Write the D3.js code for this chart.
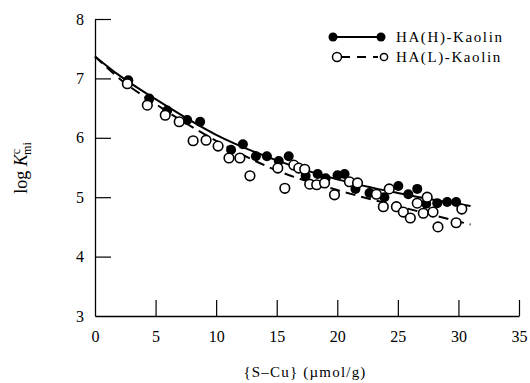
<!DOCTYPE html>
<html><head><meta charset="utf-8">
<script src="https://cdn.jsdelivr.net/npm/d3@7"></script>
<style>body{margin:0;background:#fff}svg{display:block}text{font-family:"Liberation Serif","Times New Roman",serif;fill:#000}</style>
</head><body><svg id="c" width="530" height="383"></svg>
<script>
// Data
const hX = [2.75,4.48,5.96,7.61,8.68,11.23,12.21,13.28,14.19,15.17,15.99,17.39,18.38,19.04,20.02,20.6,21.5,22.66,23.89,25.04,25.86,26.6,27.34,28.25,29.07,29.81];
const hY = [6.97,6.66,6.46,6.30,6.27,5.80,5.89,5.69,5.69,5.61,5.69,5.36,5.39,5.32,5.37,5.39,5.14,5.07,5.00,5.19,5.05,5.14,4.89,4.90,4.92,4.92];
const lX = [2.67,4.32,5.80,6.95,8.10,9.17,10.16,11.06,11.96,12.79,15.09,15.67,16.41,16.82,17.31,17.72,18.30,18.95,19.77,21.0,21.67,23.23,23.80,24.29,24.88,25.45,26.03,26.6,27.42,27.1,27.9,28.31,30.28,29.81];
const lY = [6.91,6.55,6.38,6.27,5.95,5.96,5.86,5.66,5.66,5.36,5.49,5.15,5.54,5.49,5.47,5.22,5.21,5.24,5.04,5.26,5.24,5.05,4.84,5.14,4.84,4.75,4.65,4.90,5.00,4.73,4.75,4.50,4.80,4.57];
const hFitX = [0,2,5,10,15,20,25,31];
const hFitY = [7.37,7.05,6.65,6.05,5.62,5.30,5.07,4.85];
const lFitX = [0,2,5,10,15,20,25,31];
const lFitY = [7.37,7.00,6.57,5.95,5.45,5.12,4.85,4.54];
const xTicks = [0,5,10,15,20,25,30,35];
const yTicks = [3,4,5,6,7,8];
const legendLabels = ["HA(H)-Kaolin","HA(L)-Kaolin"];

const svg = d3.select("#c");
const x = d3.scaleLinear().domain([0,35]).range([95,519]);
const y = d3.scaleLinear().domain([3,8]).range([316,19]);

// axes
const gx = svg.append("g").attr("transform","translate(0,316)")
  .call(d3.axisBottom(x).tickValues(xTicks).tickFormat(d3.format("d")).tickSizeInner(-16).tickSizeOuter(0).tickPadding(15));
const gy = svg.append("g").attr("transform","translate(95,0)")
  .call(d3.axisLeft(y).tickValues(yTicks).tickFormat(d3.format("d")).tickSizeInner(-16).tickSizeOuter(0).tickPadding(11));
[gx,gy].forEach(g=>{
  g.select(".domain").attr("stroke","#000").attr("stroke-width",1.3);
  g.selectAll(".tick line").attr("stroke","#000").attr("stroke-width",1.2);
  g.selectAll(".tick text").style("font-family","'Liberation Serif',serif").style("font-size","16px").attr("fill","#000");
});
gy.selectAll(".tick").filter(d=>d===3).select("line").remove();
gx.selectAll(".tick").filter(d=>d===0).select("line").remove();

// fit lines
const line = d3.line().x(d=>x(d[0])).y(d=>y(d[1])).curve(d3.curveMonotoneX);
svg.append("path").datum(hFitX.map((v,i)=>[v,hFitY[i]])).attr("d",line)
  .attr("fill","none").attr("stroke","#000").attr("stroke-width",2);
svg.append("path").datum(lFitX.map((v,i)=>[v,lFitY[i]])).attr("d",line)
  .attr("fill","none").attr("stroke","#000").attr("stroke-width",2).attr("stroke-dasharray","10,6");

// points
svg.append("g").selectAll("circle").data(hX.map((v,i)=>[v,hY[i]])).join("circle")
  .attr("cx",d=>x(d[0])).attr("cy",d=>y(d[1])).attr("r",5).attr("fill","#000");
svg.append("g").selectAll("circle").data(lX.map((v,i)=>[v,lY[i]])).join("circle")
  .attr("cx",d=>x(d[0])).attr("cy",d=>y(d[1])).attr("r",4.8).attr("fill","#fff")
  .attr("stroke","#000").attr("stroke-width",1.6);

// legend
const lg = svg.append("g");
lg.append("line").attr("x1",333).attr("x2",381).attr("y1",37).attr("y2",37).attr("stroke","#000").attr("stroke-width",2);
lg.append("circle").attr("cx",333).attr("cy",37).attr("r",4.5).attr("fill","#000");
lg.append("circle").attr("cx",381).attr("cy",37).attr("r",4.5).attr("fill","#000");
lg.append("line").attr("x1",341).attr("x2",378).attr("y1",57).attr("y2",57).attr("stroke","#000").attr("stroke-width",2).attr("stroke-dasharray","9,7");
lg.append("circle").attr("cx",337).attr("cy",57).attr("r",4.5).attr("fill","#fff").attr("stroke","#000").attr("stroke-width",1.5);
lg.append("circle").attr("cx",384).attr("cy",57).attr("r",3.6).attr("fill","#fff").attr("stroke","#000").attr("stroke-width",1.5);
lg.selectAll("text.lab").data(legendLabels).join("text").attr("class","lab")
  .attr("x",396).attr("y",(d,i)=>37+i*20+5).style("font-size","15px").style("letter-spacing","1.6px").text(d=>d);

// axis titles
svg.append("text").attr("x",305).attr("y",377).attr("text-anchor","middle")
  .style("font-size","15px").style("letter-spacing","1.2px").text("{S\u2013Cu} (\u00b5mol/g)");
const yt = svg.append("text").attr("transform","translate(27,168) rotate(-90)").attr("text-anchor","middle").style("font-size","18px");
yt.append("tspan").text("log ");
yt.append("tspan").style("font-style","italic").text("K");
yt.append("tspan").attr("dy",-7).style("font-size","12px").text("c");
yt.append("tspan").attr("dx",-6).attr("dy",11).style("font-size","12px").text("mi");
</script></body></html>
